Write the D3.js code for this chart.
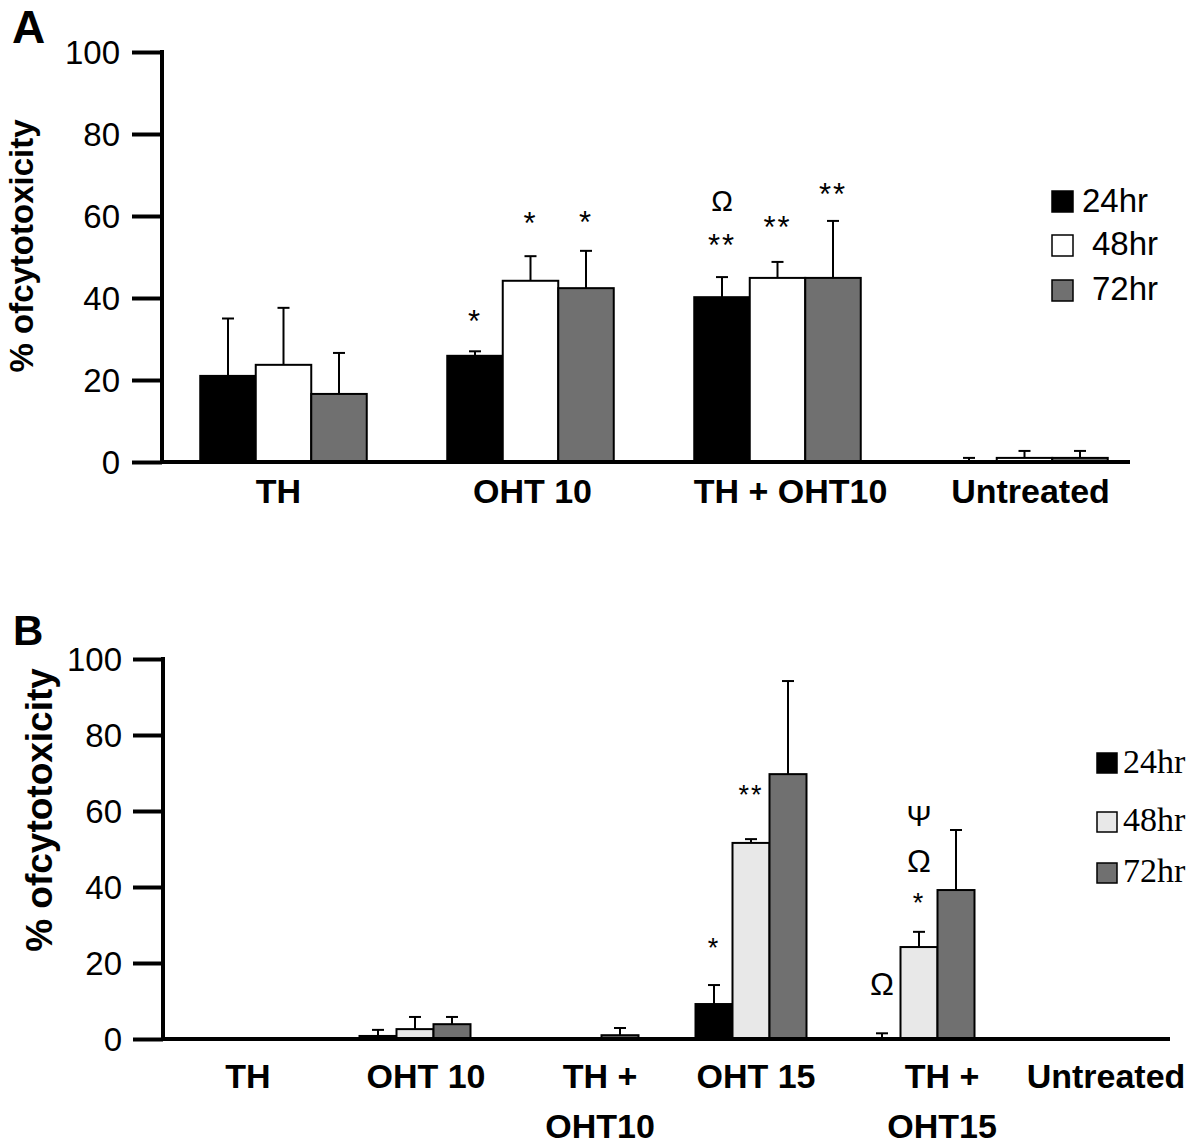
<!DOCTYPE html>
<html><head><meta charset="utf-8">
<script src="https://cdn.jsdelivr.net/npm/d3@7"></script>
<style>body{margin:0;background:#fff}svg{display:block}</style>
</head><body>
<script>
// ---------- DATA ----------
const series = ["24hr", "48hr", "72hr"];

// Panel A
const catsA = ["TH", "OHT 10", "TH + OHT10", "Untreated"];
const a24 = [21.0, 25.9, 40.2, 0.2];
const a48 = [23.7, 44.2, 44.9, 1.0];
const a72 = [16.6, 42.4, 44.9, 1.0];
const a24Err = [14.0, 1.1, 4.9, 0.8];
const a48Err = [13.9, 6.0, 3.9, 1.7];
const a72Err = [10.0, 9.1, 13.9, 1.7];
// annotations: [category, series, text, level (% units)]
const annA = [
  ["OHT 10", "24hr", "*", 36.1],
  ["OHT 10", "48hr", "*", 59.8],
  ["OHT 10", "72hr", "*", 60.2],
  ["TH + OHT10", "24hr", "Ω", 63.7],
  ["TH + OHT10", "24hr", "**", 54.6],
  ["TH + OHT10", "48hr", "**", 59.0],
  ["TH + OHT10", "72hr", "**", 67.0]
];

// Panel B
const catsB = ["TH", "OHT 10", "TH + OHT10", "OHT 15", "TH + OHT15", "Untreated"];
const labelLinesB = [["TH"], ["OHT 10"], ["TH +", "OHT10"], ["OHT 15"], ["TH +", "OHT15"], ["Untreated"]];
const b24 = [0, 0.8, 0, 9.2, 0.2, 0];
const b48 = [0, 2.6, 0, 51.6, 24.2, 0];
const b72 = [0, 3.9, 1.0, 69.7, 39.2, 0];
const b24Err = [0, 1.6, 0, 5.0, 1.3, 0];
const b48Err = [0, 3.2, 0, 1.0, 4.0, 0];
const b72Err = [0, 1.9, 1.9, 24.5, 15.8, 0];
const annB = [
  ["OHT 15", "24hr", "*", 25.5],
  ["OHT 15", "48hr", "**", 65.8],
  ["TH + OHT15", "24hr", "Ω", 14.7],
  ["TH + OHT15", "48hr", "*", 37.4],
  ["TH + OHT15", "48hr", "Ω", 47.1],
  ["TH + OHT15", "48hr", "Ψ", 59.0]
];

const yTicks = [0, 20, 40, 60, 80, 100];
const yTitle = "% ofcytotoxicity";

// ---------- DRAW ----------
const W = 1200, H = 1144;
const SANS = "'Liberation Sans', Arial, Helvetica, sans-serif";
const SERIF = "'Liberation Serif', 'Times New Roman', serif";
const svg = d3.select("body").append("svg").attr("width", W).attr("height", H);

function panel(cfg) {
  const g = svg.append("g");
  const y = d3.scaleLinear().domain([0, 100]).range([cfg.y0, cfg.y100]);
  const x0 = d3.scaleBand().domain(cfg.cats).range(cfg.xRange);
  const groupW = cfg.barW * 3;
  const x1 = d3.scaleBand().domain(series).range([0, groupW]);
  const gx = c => x0(c) + x0.bandwidth() / 2 - groupW / 2;

  // y axis
  const ax = d3.axisLeft(y).tickValues(yTicks).tickSize(30).tickSizeOuter(0).tickPadding(cfg.tickPad);
  const ag = g.append("g").attr("transform", `translate(${cfg.axisX},0)`).call(ax);
  ag.select(".domain").attr("stroke", "#000").attr("stroke-width", 4)
    .attr("d", `M0,${y(100) - 2}V${y(0)}`);
  ag.selectAll(".tick line").attr("stroke", "#000").attr("stroke-width", 4);
  ag.selectAll(".tick text").attr("font-family", SANS).attr("font-size", cfg.tickFs)
    .attr("fill", "#000").attr("dy", "0.36em");

  const vals = [cfg.v24, cfg.v48, cfg.v72];
  const errs = [cfg.e24, cfg.e48, cfg.e72];
  const rows = [];
  cfg.cats.forEach((c, i) => series.forEach((s, j) => rows.push({c, s, v: vals[j][i], e: errs[j][i], j})));

  // error bars
  const eg = g.append("g").attr("stroke", "#000").attr("stroke-width", 2);
  rows.filter(r => r.e > 0).forEach(r => {
    const cx = gx(r.c) + x1(r.s) + x1.bandwidth() / 2;
    eg.append("line").attr("x1", cx).attr("x2", cx).attr("y1", y(r.v)).attr("y2", y(r.v + r.e));
    eg.append("line").attr("x1", cx - 6).attr("x2", cx + 6).attr("y1", y(r.v + r.e)).attr("y2", y(r.v + r.e));
  });

  // bars
  g.append("g").selectAll("rect").data(rows.filter(r => r.v > 0)).join("rect")
    .attr("x", r => gx(r.c) + x1(r.s))
    .attr("width", x1.bandwidth())
    .attr("y", r => y(r.v))
    .attr("height", r => y(0) - y(r.v))
    .attr("fill", r => cfg.colors[r.j])
    .attr("stroke", "#000").attr("stroke-width", 2);

  // baseline
  g.append("line").attr("x1", cfg.axisX).attr("x2", cfg.baseEnd).attr("y1", y(0)).attr("y2", y(0))
    .attr("stroke", "#000").attr("stroke-width", 4);

  // category labels
  cfg.labelLines.forEach((lines, i) => {
    const cx = x0(cfg.cats[i]) + x0.bandwidth() / 2 + cfg.labelDx[i];
    lines.forEach((t, k) => {
      g.append("text").attr("x", cx).attr("y", cfg.labelY + k * cfg.labelLH)
        .attr("text-anchor", "middle").attr("font-family", SANS).attr("font-weight", "bold")
        .attr("font-size", cfg.labelFs).text(t);
    });
  });

  // annotations
  cfg.ann.forEach(([c, s, t, lvl]) => {
    const cx = gx(c) + x1(s) + x1.bandwidth() / 2;
    const isStar = t.indexOf("*") >= 0;
    const fs = isStar ? cfg.starFs : (t === "Ψ" ? cfg.psiFs : cfg.omegaFs);
    const k = isStar ? 0.57 : 0.36;
    g.append("text").attr("x", cx).attr("y", y(lvl) + k * fs)
      .attr("text-anchor", "middle").attr("font-family", SANS).attr("font-size", fs)
      .attr("letter-spacing", isStar ? 2 : 0).text(t);
  });

  // y title
  g.append("text").attr("transform", `translate(${cfg.titleX},${cfg.titleY}) rotate(-90)`)
    .attr("text-anchor", "middle").attr("font-family", SANS).attr("font-weight", "bold")
    .attr("font-size", cfg.titleFs).text(yTitle);

  // panel letter
  g.append("text").attr("x", cfg.letterX).attr("y", cfg.letterY).attr("font-family", SANS)
    .attr("font-weight", "bold").attr("font-size", cfg.letterFs).text(cfg.letter);

  // legend
  const lg = g.append("g");
  series.forEach((s, j) => {
    const L = cfg.legend;
    lg.append("rect").attr("x", L.sx).attr("y", L.sy[j]).attr("width", L.size).attr("height", L.size)
      .attr("fill", cfg.colors[j]).attr("stroke", "#000").attr("stroke-width", 1.5);
    lg.append("text").attr("x", L.tx[j]).attr("y", L.ty[j]).attr("font-family", L.font)
      .attr("font-size", L.fs).text(s);
  });
}

panel({
  cats: catsA, labelLines: catsA.map(c => [c]), labelDx: [-5, 2, 13, 6],
  v24: a24, v48: a48, v72: a72, e24: a24Err, e48: a48Err, e72: a72Err, ann: annA,
  y0: 462, y100: 52, xRange: [160, 1148], barW: 55.5, axisX: 162, baseEnd: 1130,
  tickPad: 12, tickFs: 33, labelY: 503, labelLH: 50, labelFs: 34,
  starFs: 31, omegaFs: 29, psiFs: 29,
  colors: ["#000000", "#ffffff", "#707070"],
  titleX: 33, titleY: 246, titleFs: 33, letter: "A", letterX: 12, letterY: 43, letterFs: 46,
  legend: {sx: 1052, sy: [191, 235, 280], size: 21, tx: [1082, 1092, 1092], ty: [212, 255, 300], fs: 33, font: SANS}
});

panel({
  cats: catsB, labelLines: labelLinesB, labelDx: [1, 11, 17, 5, 23, 19],
  v24: b24, v48: b48, v72: b72, e24: b24Err, e48: b48Err, e72: b72Err, ann: annB,
  y0: 1039, y100: 659, xRange: [163, 1171], barW: 37, axisX: 163, baseEnd: 1170,
  tickPad: 11, tickFs: 33, labelY: 1088, labelLH: 50, labelFs: 34,
  starFs: 27, omegaFs: 32, psiFs: 30,
  colors: ["#000000", "#e8e8e8", "#707070"],
  titleX: 52, titleY: 810, titleFs: 37, letter: "B", letterX: 13, letterY: 645, letterFs: 42,
  legend: {sx: 1097, sy: [753, 812, 863], size: 20, tx: [1123, 1123, 1123], ty: [773, 831, 882], fs: 34, font: SERIF}
});
</script>
</body></html>
